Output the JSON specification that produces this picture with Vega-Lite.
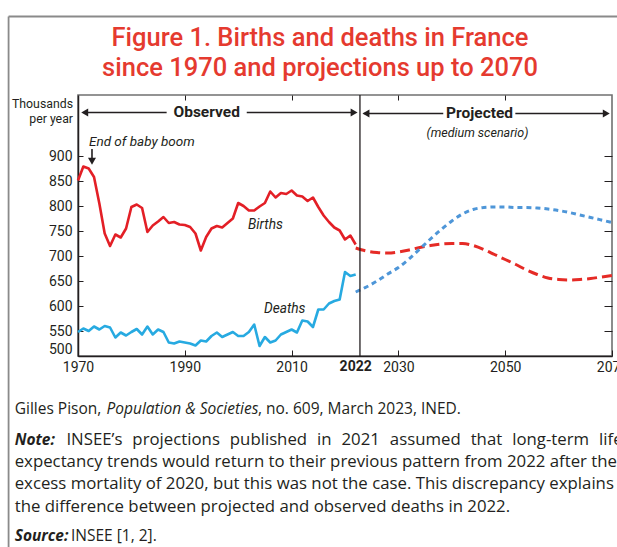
{
  "$schema": "https://vega.github.io/schema/vega-lite/v6.json",
  "autosize": {"type": "none"},
  "width": 534,
  "height": 261,
  "padding": {"left": 78, "top": 95, "right": 5, "bottom": 191},
  "background": "white",
  "data": {"values": [{}]},
  "title": {
    "text": ["Figure 1. Births and deaths in France", "since 1970 and projections up to 2070"],
    "color": "#e53a2f",
    "font": "Roboto",
    "fontWeight": 500,
    "fontSize": 25.5,
    "lineHeight": 30,
    "anchor": "middle",
    "frame": "group",
    "dx": -25,
    "dy": 78,
    "offset": 12
  },
  "config": {
    "view": {"stroke": "#707070", "strokeWidth": 1.6},
    "axis": {
      "labelFont": "Roboto",
      "labelFontSize": 14,
      "labelColor": "#231f20",
      "tickColor": "#231f20",
      "domainColor": "#231f20",
      "grid": false
    }
  },
  "datasets": {
    "observed": [
      {"year": 1970, "births": 851, "deaths": 548},
      {"year": 1971, "births": 879, "deaths": 555},
      {"year": 1972, "births": 875, "deaths": 550},
      {"year": 1973, "births": 858, "deaths": 559},
      {"year": 1974, "births": 805, "deaths": 553},
      {"year": 1975, "births": 745, "deaths": 560},
      {"year": 1976, "births": 720, "deaths": 557},
      {"year": 1977, "births": 743, "deaths": 537},
      {"year": 1978, "births": 737, "deaths": 547},
      {"year": 1979, "births": 755, "deaths": 541},
      {"year": 1980, "births": 798, "deaths": 548},
      {"year": 1981, "births": 803, "deaths": 554},
      {"year": 1982, "births": 796, "deaths": 543},
      {"year": 1983, "births": 748, "deaths": 559},
      {"year": 1984, "births": 761, "deaths": 543},
      {"year": 1985, "births": 769, "deaths": 553},
      {"year": 1986, "births": 778, "deaths": 548},
      {"year": 1987, "births": 766, "deaths": 527},
      {"year": 1988, "births": 768, "deaths": 525},
      {"year": 1989, "births": 763, "deaths": 529},
      {"year": 1990, "births": 762, "deaths": 527},
      {"year": 1991, "births": 758, "deaths": 525},
      {"year": 1992, "births": 745, "deaths": 521},
      {"year": 1993, "births": 711, "deaths": 531},
      {"year": 1994, "births": 738, "deaths": 529},
      {"year": 1995, "births": 755, "deaths": 540},
      {"year": 1996, "births": 760, "deaths": 547},
      {"year": 1997, "births": 757, "deaths": 538},
      {"year": 1998, "births": 766, "deaths": 543},
      {"year": 1999, "births": 775, "deaths": 548},
      {"year": 2000, "births": 806, "deaths": 540},
      {"year": 2001, "births": 800, "deaths": 540},
      {"year": 2002, "births": 791, "deaths": 548},
      {"year": 2003, "births": 791, "deaths": 563},
      {"year": 2004, "births": 799, "deaths": 520},
      {"year": 2005, "births": 806, "deaths": 538},
      {"year": 2006, "births": 829, "deaths": 527},
      {"year": 2007, "births": 817, "deaths": 531},
      {"year": 2008, "births": 826, "deaths": 543},
      {"year": 2009, "births": 824, "deaths": 548},
      {"year": 2010, "births": 831, "deaths": 553},
      {"year": 2011, "births": 821, "deaths": 547},
      {"year": 2012, "births": 819, "deaths": 571},
      {"year": 2013, "births": 810, "deaths": 569},
      {"year": 2014, "births": 817, "deaths": 558},
      {"year": 2015, "births": 798, "deaths": 593},
      {"year": 2016, "births": 781, "deaths": 593},
      {"year": 2017, "births": 768, "deaths": 605},
      {"year": 2018, "births": 757, "deaths": 610},
      {"year": 2019, "births": 751, "deaths": 613},
      {"year": 2020, "births": 733, "deaths": 668},
      {"year": 2021, "births": 741, "deaths": 660},
      {"year": 2022, "births": 723, "deaths": 663}
    ],
    "projected": [
      {"year": 2022, "births": 716, "deaths": 628},
      {"year": 2024, "births": 710, "deaths": 638},
      {"year": 2026, "births": 707, "deaths": 650},
      {"year": 2028, "births": 706, "deaths": 664},
      {"year": 2030, "births": 708, "deaths": 677},
      {"year": 2032, "births": 712, "deaths": 694},
      {"year": 2034, "births": 717, "deaths": 714},
      {"year": 2036, "births": 721, "deaths": 734},
      {"year": 2038, "births": 724, "deaths": 753},
      {"year": 2040, "births": 725, "deaths": 770},
      {"year": 2042, "births": 725, "deaths": 784},
      {"year": 2044, "births": 721, "deaths": 793},
      {"year": 2046, "births": 713, "deaths": 797},
      {"year": 2048, "births": 703, "deaths": 798},
      {"year": 2050, "births": 693, "deaths": 798},
      {"year": 2052, "births": 683, "deaths": 797},
      {"year": 2054, "births": 672, "deaths": 797},
      {"year": 2056, "births": 663, "deaths": 796},
      {"year": 2058, "births": 656, "deaths": 794},
      {"year": 2060, "births": 653, "deaths": 791},
      {"year": 2062, "births": 652, "deaths": 787},
      {"year": 2064, "births": 653, "deaths": 782},
      {"year": 2066, "births": 655, "deaths": 777},
      {"year": 2068, "births": 658, "deaths": 772},
      {"year": 2070, "births": 661, "deaths": 767}
    ]
  },
  "layer": [
    {
      "data": {"name": "observed"},
      "mark": {"type": "line", "color": "#e31f26", "strokeWidth": 2.6, "strokeJoin": "round"},
      "encoding": {
        "x": {"field": "year", "type": "quantitative",
          "scale": {"domain": [1970, 2070], "nice": false, "zero": false},
          "axis": {"orient": "bottom", "values": [1970, 1990, 2010, 2030, 2050, 2070], "title": null, "format": "d",
            "tickSize": -6, "labelPadding": 10, "labelFlush": false, "domainWidth": 1.5, "labelOverlap": false}},
        "y": {"field": "births", "type": "quantitative",
          "scale": {"domain": [500, 1022], "nice": false, "zero": false},
          "axis": {"orient": "left", "values": [500, 550, 600, 650, 700, 750, 800, 850, 900], "title": null,
            "tickSize": -5, "labelPadding": 11, "labelFlush": true, "domainWidth": 1.5, "labelOverlap": false}}
      }
    },
    {
      "data": {"name": "observed"},
      "mark": {"type": "line", "color": "#27aae1", "strokeWidth": 2.6, "strokeJoin": "round"},
      "encoding": {
        "x": {"field": "year", "type": "quantitative", "axis": null},
        "y": {"field": "deaths", "type": "quantitative", "axis": null}
      }
    },
    {
      "data": {"name": "projected"},
      "mark": {"type": "line", "color": "#e52b26", "strokeWidth": 3, "strokeDash": [10, 5], "interpolate": "monotone"},
      "encoding": {
        "x": {"field": "year", "type": "quantitative", "axis": null},
        "y": {"field": "births", "type": "quantitative", "axis": null}
      }
    },
    {
      "data": {"name": "projected"},
      "mark": {"type": "line", "color": "#4e96d8", "strokeWidth": 3, "strokeDash": [5, 4], "interpolate": "monotone"},
      "encoding": {
        "x": {"field": "year", "type": "quantitative",
          "axis": {"orient": "top", "values": [1990, 2010, 2030, 2050], "labels": false, "domain": false, "tickSize": -5, "title": null}},
        "y": {"field": "deaths", "type": "quantitative",
          "axis": {"orient": "right", "values": [550, 600, 650, 700, 750, 800, 850, 900], "labels": false, "domain": false, "tickSize": -8, "title": null}}
      }
    },
    {
      "mark": {"type": "rule", "color": "#231f20", "strokeWidth": 1.3},
      "encoding": {"x": {"datum": 2022.8, "axis": null}}
    },
    {
      "mark": {"type": "rule", "color": "#231f20", "strokeWidth": 1.6},
      "encoding": {"x": {"datum": 1971, "axis": null}, "x2": {"datum": 1986.6}, "y": {"datum": 987, "axis": null}}
    },
    {
      "mark": {"type": "rule", "color": "#231f20", "strokeWidth": 1.6},
      "encoding": {"x": {"datum": 2001.6, "axis": null}, "x2": {"datum": 2021.9}, "y": {"datum": 987, "axis": null}}
    },
    {
      "mark": {"type": "rule", "color": "#231f20", "strokeWidth": 1.6},
      "encoding": {"x": {"datum": 2023.5, "axis": null}, "x2": {"datum": 2038.4}, "y": {"datum": 985, "axis": null}}
    },
    {
      "mark": {"type": "rule", "color": "#231f20", "strokeWidth": 1.6},
      "encoding": {"x": {"datum": 2051.9, "axis": null}, "x2": {"datum": 2069}, "y": {"datum": 985, "axis": null}}
    },
    {
      "mark": {"type": "point", "shape": "triangle-left", "filled": true, "size": 64, "color": "#231f20", "opacity": 1},
      "encoding": {"x": {"datum": 1971.26, "axis": null}, "y": {"datum": 987, "axis": null}}
    },
    {
      "mark": {"type": "point", "shape": "triangle-right", "filled": true, "size": 64, "color": "#231f20", "opacity": 1},
      "encoding": {"x": {"datum": 2021.7, "axis": null}, "y": {"datum": 987, "axis": null}}
    },
    {
      "mark": {"type": "point", "shape": "triangle-left", "filled": true, "size": 64, "color": "#231f20", "opacity": 1},
      "encoding": {"x": {"datum": 2023.93, "axis": null}, "y": {"datum": 985, "axis": null}}
    },
    {
      "mark": {"type": "point", "shape": "triangle-right", "filled": true, "size": 64, "color": "#231f20", "opacity": 1},
      "encoding": {"x": {"datum": 2068.93, "axis": null}, "y": {"datum": 985, "axis": null}}
    },
    {
      "mark": {"type": "rule", "color": "#231f20", "strokeWidth": 1.6},
      "encoding": {"x": {"datum": 1972.62, "axis": null}, "y": {"datum": 914, "axis": null}, "y2": {"datum": 895}}
    },
    {
      "mark": {"type": "point", "shape": "triangle-down", "filled": true, "size": 64, "color": "#231f20", "opacity": 1},
      "encoding": {"x": {"datum": 1972.62, "axis": null}, "y": {"datum": 889.4, "axis": null}}
    },
    {
      "mark": {"type": "text", "font": "Roboto", "color": "#231f20", "fontWeight": "bold", "fontSize": 15.5, "align": "center", "baseline": "middle"},
      "encoding": {"x": {"datum": 1994.1, "axis": null}, "y": {"datum": 988, "axis": null}, "text": {"value": "Observed"}}
    },
    {
      "mark": {"type": "text", "font": "Roboto", "color": "#231f20", "fontWeight": "bold", "fontSize": 15.5, "align": "center", "baseline": "middle"},
      "encoding": {"x": {"datum": 2045.2, "axis": null}, "y": {"datum": 986, "axis": null}, "text": {"value": "Projected"}}
    },
    {
      "mark": {"type": "text", "font": "Roboto", "color": "#231f20", "fontStyle": "italic", "fontSize": 12.5, "align": "center", "baseline": "alphabetic"},
      "encoding": {"x": {"datum": 2044.8, "axis": null}, "y": {"datum": 939, "axis": null}, "text": {"value": "(medium scenario)"}}
    },
    {
      "mark": {"type": "text", "font": "Roboto", "color": "#231f20", "fontStyle": "italic", "fontSize": 13.5, "align": "left", "baseline": "alphabetic"},
      "encoding": {"x": {"datum": 1972.06, "axis": null}, "y": {"datum": 919.4, "axis": null}, "text": {"value": "End of baby boom"}}
    },
    {
      "mark": {"type": "text", "font": "Roboto", "color": "#231f20", "fontStyle": "italic", "fontSize": 13.7, "align": "center", "baseline": "alphabetic"},
      "encoding": {"x": {"datum": 2005.1, "axis": null}, "y": {"datum": 753.4, "axis": null}, "text": {"value": "Births"}}
    },
    {
      "mark": {"type": "text", "font": "Roboto", "color": "#231f20", "fontStyle": "italic", "fontSize": 13.7, "align": "center", "baseline": "alphabetic"},
      "encoding": {"x": {"datum": 2008.7, "axis": null}, "y": {"datum": 585.4, "axis": null}, "text": {"value": "Deaths"}}
    },
    {
      "mark": {"type": "text", "font": "Roboto", "color": "#231f20", "fontSize": 12.3, "align": "right", "baseline": "alphabetic", "dx": -5, "lineHeight": 14.5},
      "encoding": {"x": {"datum": 1970, "axis": null}, "y": {"datum": 996, "axis": null}, "text": {"value": ["Thousands", "per year"]}}
    },
    {
      "mark": {"type": "text", "font": "Roboto", "color": "#231f20", "fontWeight": "bold", "fontSize": 14, "align": "center", "baseline": "top", "dy": 4},
      "encoding": {"x": {"datum": 2022, "axis": null}, "y": {"datum": 500, "axis": null}, "text": {"value": "2022"}}
    },
    {
      "mark": {"type": "rule", "color": "#8a8a8a", "strokeWidth": 1.8},
      "encoding": {"x": {"datum": 1957, "axis": null}, "y": {"datum": 1179, "axis": null}, "y2": {"datum": 100}}
    },
    {
      "mark": {"type": "rule", "color": "#8a8a8a", "strokeWidth": 1.8},
      "encoding": {"x": {"datum": 1957, "axis": null}, "x2": {"datum": 2080}, "y": {"datum": 1179, "axis": null}}
    },
    {
      "mark": {"type": "text", "font": "Open Sans", "color": "#231f20", "fontSize": 15.5, "align": "left", "baseline": "alphabetic", "dx": -63.3, "dy": 58},
      "encoding": {"x": {"datum": 1970, "axis": null}, "y": {"datum": 500, "axis": null}, "text": {"value": "Gilles Pison,"}}
    },
    {
      "mark": {"type": "text", "font": "Open Sans", "color": "#231f20", "fontStyle": "italic", "fontSize": 15.5, "align": "left", "baseline": "alphabetic", "dx": 28.5, "dy": 58},
      "encoding": {"x": {"datum": 1970, "axis": null}, "y": {"datum": 500, "axis": null}, "text": {"value": "Population & Societies"}}
    },
    {
      "mark": {"type": "text", "font": "Open Sans", "color": "#231f20", "fontSize": 15.5, "align": "left", "baseline": "alphabetic", "dx": 180, "dy": 58},
      "encoding": {"x": {"datum": 1970, "axis": null}, "y": {"datum": 500, "axis": null}, "text": {"value": ", no. 609, March 2023, INED."}}
    },
    {
      "mark": {"type": "text", "font": "Open Sans", "color": "#231f20", "fontStyle": "italic", "fontWeight": "bold", "fontSize": 15.5, "align": "left", "baseline": "alphabetic", "dx": -63.3, "dy": 89},
      "encoding": {"x": {"datum": 1970, "axis": null}, "y": {"datum": 500, "axis": null}, "text": {"value": "Note:"}}
    },
    {
      "mark": {"type": "text", "font": "Open Sans", "color": "#231f20", "fontSize": 16.8, "align": "left", "baseline": "alphabetic", "dx": -11.6, "dy": 89},
      "encoding": {"x": {"datum": 1970, "axis": null}, "y": {"datum": 500, "axis": null}, "text": {"value": "INSEE’s \u2004projections \u2004published \u2004in \u20042021 \u2004assumed \u2004that \u2004long-term \u2004life"}}
    },
    {
      "mark": {"type": "text", "font": "Open Sans", "color": "#231f20", "fontSize": 16.8, "align": "left", "baseline": "alphabetic", "dx": -63.3, "dy": 110.7},
      "encoding": {"x": {"datum": 1970, "axis": null}, "y": {"datum": 500, "axis": null}, "text": {"value": "expectancy trends would return to their previous pattern from 2022 after the"}}
    },
    {
      "mark": {"type": "text", "font": "Open Sans", "color": "#231f20", "fontSize": 16.8, "align": "left", "baseline": "alphabetic", "dx": -63.3, "dy": 133.3},
      "encoding": {"x": {"datum": 1970, "axis": null}, "y": {"datum": 500, "axis": null}, "text": {"value": "excess mortality of 2020, but this was not the case. This discrepancy explains"}}
    },
    {
      "mark": {"type": "text", "font": "Open Sans", "color": "#231f20", "fontSize": 16.8, "align": "left", "baseline": "alphabetic", "dx": -63.3, "dy": 155.7},
      "encoding": {"x": {"datum": 1970, "axis": null}, "y": {"datum": 500, "axis": null}, "text": {"value": "the difference between projected and observed deaths in 2022."}}
    },
    {
      "mark": {"type": "text", "font": "Open Sans", "color": "#231f20", "fontStyle": "italic", "fontWeight": "bold", "fontSize": 15.5, "align": "left", "baseline": "alphabetic", "dx": -63.3, "dy": 184.7},
      "encoding": {"x": {"datum": 1970, "axis": null}, "y": {"datum": 500, "axis": null}, "text": {"value": "Source:"}}
    },
    {
      "mark": {"type": "text", "font": "Open Sans", "color": "#231f20", "fontSize": 15.5, "align": "left", "baseline": "alphabetic", "dx": -7, "dy": 184.7},
      "encoding": {"x": {"datum": 1970, "axis": null}, "y": {"datum": 500, "axis": null}, "text": {"value": "INSEE [1, 2]."}}
    }
  ],
  "resolve": {"axis": {"x": "independent", "y": "independent"}}
}
